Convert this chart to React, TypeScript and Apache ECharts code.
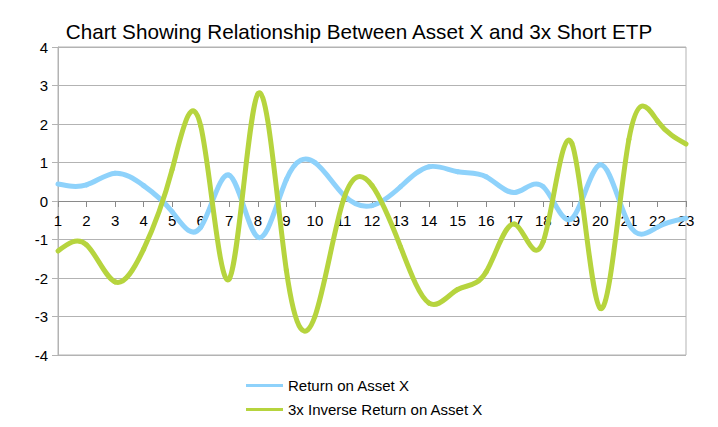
import React, { useEffect, useRef } from "react";
import * as echarts from "echarts";

const periods = [1, 2, 3, 4, 5, 6, 7, 8, 9, 10, 11, 12, 13, 14, 15, 16, 17, 18, 19, 20, 21, 22, 23];
const assetReturn = [0.44, 0.42, 0.72, 0.40, -0.28, -0.68, 0.67, -0.94, 0.56, 1.00, 0.16, -0.12, 0.37, 0.89, 0.76, 0.63, 0.22, 0.37, -0.46, 0.94, -0.60, -0.68, -0.45];
const inverseReturn = [-1.30, -1.14, -2.10, -1.25, 0.82, 1.95, -2.02, 2.78, -1.80, -3.00, 0.03, 0.40, -1.19, -2.65, -2.30, -1.84, -0.60, -1.05, 1.50, -2.79, 1.60, 2.08, 1.48];
const seriesNames = ["Return on Asset X", "3x Inverse Return on Asset X"];
const seriesColors = ["#8ed2fb", "#b6d43e"];
const chartTitle = "Chart Showing Relationship Between Asset X and 3x Short ETP";

const FONT = "'Liberation Sans', Arial, sans-serif";

// natural cubic spline slopes (unit spacing) so the drawn curve passes through every data point
function splineSlopes(y: number[]): number[] {
  const n = y.length - 1;
  const M = new Array(n + 1).fill(0);
  const m = n - 1;
  const cp = new Array(m).fill(0), dp = new Array(m).fill(0);
  for (let k = 0; k < m; k++) {
    const i = k + 1;
    const d = 6 * (y[i + 1] - 2 * y[i] + y[i - 1]);
    const den = 4 - (k > 0 ? cp[k - 1] : 0);
    cp[k] = 1 / den;
    dp[k] = (d - (k > 0 ? dp[k - 1] : 0)) / den;
  }
  for (let k = m - 1; k >= 0; k--) M[k + 1] = dp[k] - (k < m - 1 ? cp[k] * M[k + 2] : 0);
  const s: number[] = [];
  for (let i = 0; i < n; i++) s.push(y[i + 1] - y[i] - (2 * M[i] + M[i + 1]) / 6);
  s.push(y[n] - y[n - 1] + (M[n - 1] + 2 * M[n]) / 6);
  return s;
}

function splineSeries(name: string, values: number[], color: string) {
  const slopes = splineSlopes(values);
  return {
    name,
    type: "custom",
    data: values.map((v, i) => [periods[i], v]),
    itemStyle: { color },
    clip: false,
    renderItem: (params: any, api: any) => {
      const i = params.dataIndex;
      if (i >= values.length - 1) return { type: "group", children: [] };
      const h = periods[i + 1] - periods[i];
      const p0 = api.coord([periods[i], values[i]]);
      const p1 = api.coord([periods[i + 1], values[i + 1]]);
      const c0 = api.coord([periods[i] + h / 3, values[i] + (slopes[i] * h) / 3]);
      const c1 = api.coord([periods[i + 1] - h / 3, values[i + 1] - (slopes[i + 1] * h) / 3]);
      return {
        type: "bezierCurve",
        shape: { x1: p0[0], y1: p0[1], x2: p1[0], y2: p1[1], cpx1: c0[0], cpy1: c0[1], cpx2: c1[0], cpy2: c1[1] },
        style: { stroke: color, lineWidth: 5, fill: null, lineCap: "round" },
      };
    },
  };
}

export default function App() {
  const ref = useRef<HTMLDivElement>(null);
  useEffect(() => {
    const chart = echarts.init(ref.current!, null, { renderer: "svg" });
    chart.setOption({
      animation: false,
      backgroundColor: "#fff",
      title: {
        text: chartTitle,
        left: "center",
        top: 16,
        textStyle: { fontSize: 20.7, fontWeight: "normal", color: "#000", fontFamily: FONT },
      },
      legend: {
        orient: "vertical",
        left: 246,
        top: 378,
        padding: 0,
        itemWidth: 37,
        itemHeight: 14,
        itemGap: 9,
        icon: "path://M0,6 L37,6 L37,9 L0,9 Z",
        textStyle: { fontSize: 15, color: "#000", fontFamily: FONT },
        data: seriesNames.map((n, i) => ({ name: n, itemStyle: { color: seriesColors[i] } })),
      },
      grid: {
        left: 58,
        right: 32,
        top: 47,
        bottom: 72,
        show: true,
        borderColor: "#b3b3b3",
        borderWidth: 1,
      },
      xAxis: {
        type: "value",
        min: 1,
        max: 23,
        interval: 1,
        axisLine: { show: true, onZero: true, lineStyle: { color: "#8a8a8a", width: 1 } },
        axisTick: { show: true, length: 6, lineStyle: { color: "#8a8a8a" } },
        axisLabel: { color: "#000", fontSize: 15, fontFamily: FONT, margin: -142, showMinLabel: true, showMaxLabel: true },
        splitLine: { show: false },
      },
      yAxis: {
        type: "value",
        min: -4,
        max: 4,
        interval: 1,
        axisLine: { show: true, onZero: false, lineStyle: { color: "#b3b3b3" } },
        axisTick: { show: true, length: 6, lineStyle: { color: "#b3b3b3" } },
        axisLabel: { color: "#000", fontSize: 15, fontFamily: FONT, margin: 10 },
        splitLine: { show: true, lineStyle: { color: "#b3b3b3", width: 1 } },
      },
      series: [
        splineSeries(seriesNames[0], assetReturn, seriesColors[0]),
        splineSeries(seriesNames[1], inverseReturn, seriesColors[1]),
      ],
    });
    return () => chart.dispose();
  }, []);
  return (
    <div
      ref={ref}
      style={{ position: "fixed", left: 0, top: 0, width: 718, height: 427, background: "#fff" }}
    />
  );
}
